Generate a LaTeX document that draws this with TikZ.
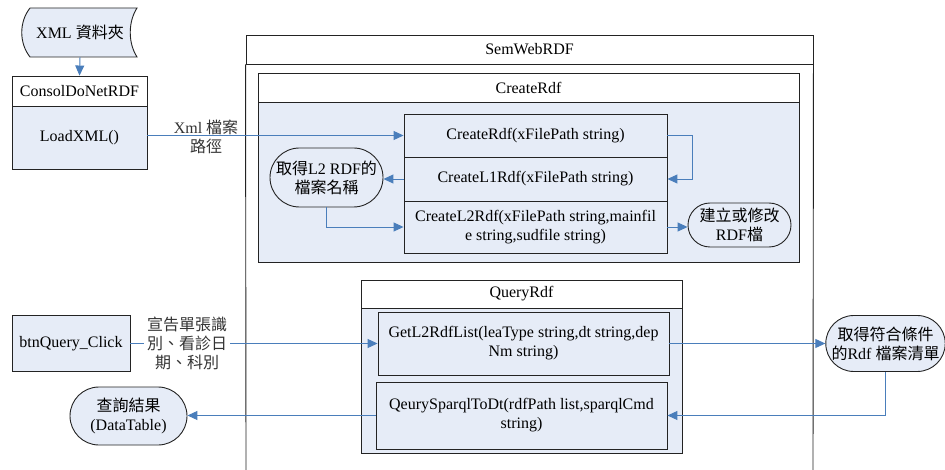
\documentclass[tikz,border=0pt]{standalone}
\usepackage{fontspec}
\setmainfont{Liberation Serif}
\newfontfamily\cjk{Noto Sans CJK TC}
\usetikzlibrary{arrows.meta,shapes.misc}
\definecolor{lnblue}{RGB}{74,126,187}
\definecolor{fillblue}{RGB}{230,236,247}
\definecolor{bord}{RGB}{35,35,35}
\newcommand{\fsz}{\fontsize{16}{19}\selectfont}
\tikzset{
  box/.style={draw=bord, line width=0.9pt, inner sep=0pt, align=center, font=\fsz, rectangle},
  bluebox/.style={box, fill=fillblue},
  whitebox/.style={box, fill=white},
  term/.style={draw=bord, line width=0.9pt, fill=fillblue, rounded rectangle, inner sep=0pt, align=center, font=\fsz},
  conn/.style={draw=lnblue, line width=0.95pt, -{Triangle[length=10pt,width=9pt]}},
  lbl/.style={inner sep=2pt, align=center, font=\fsz, text=black!80},
  frame/.style={draw=bord, line width=0.9pt}
}
\begin{document}
\begin{tikzpicture}[x=1pt,y=-1pt]
\useasboundingbox (0,0) rectangle (945,470);
% XML folder (stored data)
\draw[frame, fill=fillblue] (30,8) -- (137,8) .. controls (128,22) and (128,43) .. (137,57) -- (30,57) .. controls (19,43) and (19,22) .. (30,8);
\node[lbl, minimum width=115pt, minimum height=49pt, inner sep=0pt, text=black] (xml) at (80,32.5) {XML {\cjk 資料夾}};
% ConsolDoNetRDF
\node[whitebox, minimum width=135pt, minimum height=30pt] (conshead) at (79.5,91) {ConsolDoNetRDF};
\node[bluebox, minimum width=135pt, minimum height=63pt] (loadxml) at (79.5,137.5) {LoadXML()};
% SemWebRDF
\node[whitebox, minimum width=567pt, minimum height=29pt] (semhead) at (529.5,49.5) {SemWebRDF};
\coordinate (semL) at (246,470);
\coordinate (semR) at (813,470);
\draw[frame] (semhead.south west) -- (semL);
\draw[frame] (semhead.south east) -- (semR);
% CreateRdf
\node[whitebox, minimum width=541pt, minimum height=29pt] (crhead) at (528.5,87.5) {CreateRdf};
\node[bluebox, minimum width=541pt, minimum height=160pt] (crbody) at (528.5,182) {};
\node[bluebox, minimum width=263pt, minimum height=43pt] (m1) at (535.5,135.5) {CreateRdf(xFilePath string)};
\node[bluebox, minimum width=263pt, minimum height=44pt] (m2) at (535.5,179) {CreateL1Rdf(xFilePath string)};
\node[bluebox, minimum width=263pt, minimum height=52pt] (m3) at (535.5,227) {CreateL2Rdf(xFilePath string,mainfil\\e string,sudfile string)};
\node[term, minimum width=113pt, minimum height=59pt] (getname) at (326.5,177.5) {{\cjk 取得}L2 RDF{\cjk 的}\\{\cjk 檔案名稱}};
\node[term, minimum width=103pt, minimum height=44pt] (buildrdf) at (739.5,225) {{\cjk 建立或修改}\\RDF{\cjk 檔}};
% QueryRdf
\node[whitebox, minimum width=321pt, minimum height=28pt] (qhead) at (521.5,294) {QueryRdf};
\node[bluebox, minimum width=321pt, minimum height=145pt] (qbody) at (521.5,380.5) {};
\node[bluebox, minimum width=291pt, minimum height=63pt] (getl2) at (523.5,343.5) {GetL2RdfList(leaType string,dt string,dep\\Nm string)};
\node[bluebox, minimum width=291pt, minimum height=67pt] (qsparql) at (521.5,415.5) {QeurySparqlToDt(rdfPath list,sparqlCmd\\string)};
% left side
\node[bluebox, minimum width=118pt, minimum height=56pt] (btn) at (71,343.5) {btnQuery\_Click};
\node[term, minimum width=117pt, minimum height=58pt] (result) at (128.5,416) {{\cjk 查詢結果}\\(DataTable)};
\node[term, minimum width=117pt, minimum height=56pt] (rdflist) at (885.5,343.5) {{\cjk 取得符合條件}\\{\cjk 的}Rdf {\cjk 檔案清單}};
% connectors
\draw[conn] (xml.south) -- (conshead.north);
\draw[conn] (m1.west -| loadxml.east) -- (m1.west);
\node[lbl] (lblxml) at (206,137) {Xml {\cjk 檔案}\\{\cjk 路徑}};
\draw[conn] (m1.east) -- ++(25,0) |- (m2.east);
\draw[conn] (m2.west) -- (m2.west -| getname.east);
\draw[conn] (getname.south) |- (m3.west);
\draw[conn] (m3.east) -- (m3.east -| buildrdf.west);
\draw[conn] (btn.east) -- (getl2.west);
\node[lbl, fill=white, inner sep=3pt] (lblq) at (187,343.5) {{\cjk 宣告單張識}\\{\cjk 別、看診日}\\{\cjk 期、科別}};
\draw[conn] (getl2.east) -- (rdflist.west);
\draw[conn] (rdflist.south) |- (qsparql.east);
\draw[conn] (qsparql.west) -- (qsparql.west -| result.east);
\end{tikzpicture}
\end{document}
